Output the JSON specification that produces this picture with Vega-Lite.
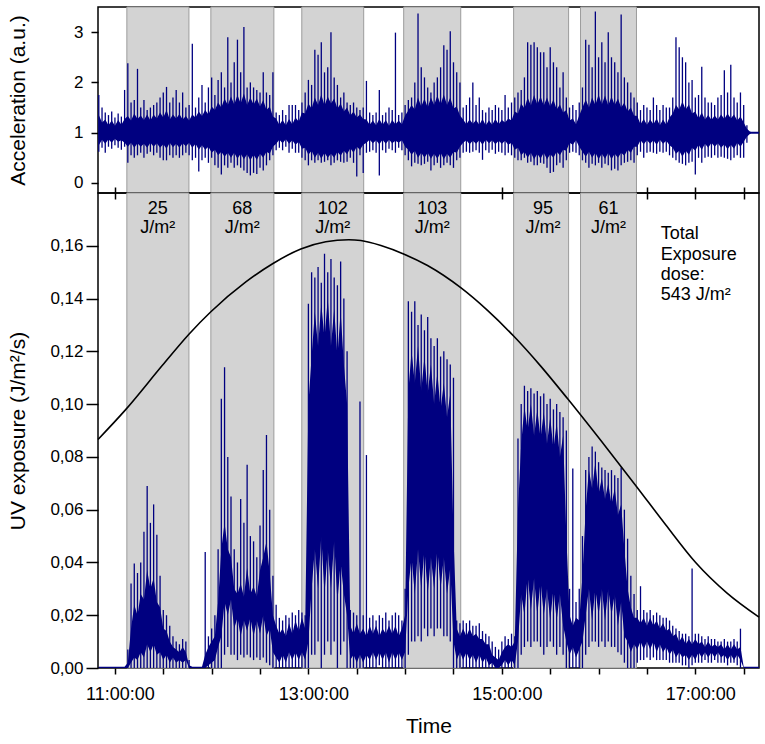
{
  "$schema": "https://vega.github.io/schema/vega-lite/v6.json",
  "padding": {"left": 6, "top": 5, "right": 5, "bottom": 5},
  "background": "white",
  "bounds": "flush",
  "spacing": 0,
  "config": {
    "view": {"stroke": "black", "strokeWidth": 1.5},
    "font": "Liberation Sans",
    "axis": {
      "labelFont": "Liberation Sans", "titleFont": "Liberation Sans",
      "labelColor": "black", "titleColor": "black", "tickColor": "black",
      "tickWidth": 1.5, "domain": false, "grid": false, "titleFontWeight": "normal"
    },
    "text": {"font": "Liberation Sans"}
  },
  "datasets": {
    "bands": [
      {"s": 667.4, "e": 705.9, "c": 686.6, "lab": ["25", "J/m²"]},
      {"s": 719.5, "e": 758.6, "c": 739.0, "lab": ["68", "J/m²"]},
      {"s": 775.9, "e": 814.3, "c": 795.1, "lab": ["102", "J/m²"]},
      {"s": 839.1, "e": 874.5, "c": 856.8, "lab": ["103", "J/m²"]},
      {"s": 907.3, "e": 941.4, "c": 925.5, "lab": ["95", "J/m²"]},
      {"s": 948.8, "e": 983.5, "c": 966.2, "lab": ["61", "J/m²"]}
    ],
    "acc": [
      {"m":650,"lo":0.62,"a":0.75,"b":1.35,"hi":1.75},
      {"m":652,"lo":0.7,"a":0.86,"b":1.2,"hi":1.5},
      {"m":654,"lo":0.6,"a":0.78,"b":1.26,"hi":1.4},
      {"m":656,"lo":0.72,"a":0.87,"b":1.15,"hi":1.35},
      {"m":658,"lo":0.68,"a":0.8,"b":1.24,"hi":1.42},
      {"m":660,"lo":0.75,"a":0.88,"b":1.14,"hi":1.3},
      {"m":662,"lo":0.7,"a":0.82,"b":1.25,"hi":1.38},
      {"m":664,"lo":0.66,"a":0.85,"b":1.16,"hi":1.32},
      {"m":666,"lo":0.72,"a":0.8,"b":1.27,"hi":1.85},
      {"m":668,"lo":0.4,"a":0.72,"b":1.33,"hi":2.38},
      {"m":670,"lo":0.55,"a":0.8,"b":1.24,"hi":1.6},
      {"m":672,"lo":0.5,"a":0.7,"b":1.38,"hi":1.65},
      {"m":674,"lo":0.55,"a":0.79,"b":1.27,"hi":2.27},
      {"m":676,"lo":0.6,"a":0.72,"b":1.34,"hi":1.5},
      {"m":678,"lo":0.5,"a":0.78,"b":1.25,"hi":1.65},
      {"m":680,"lo":0.58,"a":0.7,"b":1.36,"hi":1.45},
      {"m":682,"lo":0.62,"a":0.8,"b":1.24,"hi":1.5},
      {"m":684,"lo":0.55,"a":0.72,"b":1.36,"hi":1.55},
      {"m":686,"lo":0.6,"a":0.79,"b":1.28,"hi":1.6},
      {"m":688,"lo":0.5,"a":0.7,"b":1.4,"hi":1.7},
      {"m":690,"lo":0.45,"a":0.77,"b":1.3,"hi":1.8},
      {"m":692,"lo":0.45,"a":0.68,"b":1.45,"hi":1.91},
      {"m":694,"lo":0.55,"a":0.8,"b":1.26,"hi":1.6},
      {"m":696,"lo":0.5,"a":0.71,"b":1.36,"hi":1.7},
      {"m":698,"lo":0.55,"a":0.78,"b":1.28,"hi":1.85},
      {"m":700,"lo":0.5,"a":0.7,"b":1.37,"hi":1.6},
      {"m":702,"lo":0.55,"a":0.79,"b":1.26,"hi":1.8},
      {"m":704,"lo":0.6,"a":0.73,"b":1.33,"hi":1.5},
      {"m":706,"lo":0.55,"a":0.8,"b":1.24,"hi":1.55},
      {"m":708,"lo":0.45,"a":0.7,"b":1.36,"hi":2.77},
      {"m":710,"lo":0.5,"a":0.78,"b":1.3,"hi":1.5},
      {"m":712,"lo":0.23,"a":0.66,"b":1.42,"hi":1.7},
      {"m":714,"lo":0.45,"a":0.75,"b":1.33,"hi":1.95},
      {"m":716,"lo":0.5,"a":0.66,"b":1.45,"hi":1.6},
      {"m":718,"lo":0.4,"a":0.72,"b":1.36,"hi":1.9},
      {"m":720,"lo":0.5,"a":0.6,"b":1.52,"hi":2.1},
      {"m":722,"lo":0.35,"a":0.66,"b":1.45,"hi":1.75},
      {"m":724,"lo":0.3,"a":0.55,"b":1.6,"hi":2.05},
      {"m":726,"lo":0.17,"a":0.62,"b":1.5,"hi":2.2},
      {"m":728,"lo":0.35,"a":0.52,"b":1.68,"hi":1.9},
      {"m":730,"lo":0.3,"a":0.6,"b":1.55,"hi":2.9},
      {"m":732,"lo":0.4,"a":0.5,"b":1.72,"hi":2.0},
      {"m":734,"lo":0.3,"a":0.6,"b":1.56,"hi":2.4},
      {"m":736,"lo":0.35,"a":0.48,"b":1.75,"hi":2.85},
      {"m":738,"lo":0.3,"a":0.58,"b":1.58,"hi":2.2},
      {"m":740,"lo":0.25,"a":0.47,"b":1.78,"hi":3.1},
      {"m":742,"lo":0.2,"a":0.57,"b":1.55,"hi":1.9},
      {"m":744,"lo":0.15,"a":0.45,"b":1.7,"hi":2.0},
      {"m":746,"lo":0.2,"a":0.56,"b":1.56,"hi":1.9},
      {"m":748,"lo":0.18,"a":0.46,"b":1.68,"hi":1.85},
      {"m":750,"lo":0.3,"a":0.58,"b":1.52,"hi":1.8},
      {"m":752,"lo":0.25,"a":0.5,"b":1.65,"hi":2.2},
      {"m":754,"lo":0.35,"a":0.62,"b":1.45,"hi":1.8},
      {"m":756,"lo":0.45,"a":0.58,"b":1.52,"hi":1.75},
      {"m":758,"lo":0.55,"a":0.72,"b":1.32,"hi":2.2},
      {"m":760,"lo":0.65,"a":0.78,"b":1.28,"hi":1.4},
      {"m":762,"lo":0.7,"a":0.86,"b":1.16,"hi":1.35},
      {"m":764,"lo":0.65,"a":0.79,"b":1.25,"hi":1.45},
      {"m":766,"lo":0.72,"a":0.87,"b":1.15,"hi":1.35},
      {"m":768,"lo":0.6,"a":0.78,"b":1.27,"hi":1.55},
      {"m":770,"lo":0.68,"a":0.85,"b":1.17,"hi":1.55},
      {"m":772,"lo":0.6,"a":0.76,"b":1.3,"hi":1.55},
      {"m":774,"lo":0.6,"a":0.82,"b":1.22,"hi":1.45},
      {"m":776,"lo":0.5,"a":0.68,"b":1.4,"hi":1.6},
      {"m":778,"lo":0.45,"a":0.7,"b":1.38,"hi":1.8},
      {"m":780,"lo":0.35,"a":0.56,"b":1.58,"hi":2.05},
      {"m":782,"lo":0.45,"a":0.64,"b":1.48,"hi":1.95},
      {"m":784,"lo":0.4,"a":0.5,"b":1.7,"hi":2.65},
      {"m":786,"lo":0.45,"a":0.6,"b":1.55,"hi":2.55},
      {"m":788,"lo":0.4,"a":0.48,"b":1.76,"hi":2.8},
      {"m":790,"lo":0.42,"a":0.6,"b":1.54,"hi":2.2},
      {"m":792,"lo":0.45,"a":0.5,"b":1.72,"hi":2.3},
      {"m":794,"lo":0.35,"a":0.58,"b":1.58,"hi":3.0},
      {"m":796,"lo":0.4,"a":0.5,"b":1.68,"hi":2.1},
      {"m":798,"lo":0.45,"a":0.62,"b":1.48,"hi":1.95},
      {"m":800,"lo":0.42,"a":0.54,"b":1.58,"hi":1.7},
      {"m":802,"lo":0.4,"a":0.64,"b":1.42,"hi":1.8},
      {"m":804,"lo":0.42,"a":0.57,"b":1.5,"hi":1.6},
      {"m":806,"lo":0.5,"a":0.69,"b":1.34,"hi":1.55},
      {"m":808,"lo":0.4,"a":0.6,"b":1.42,"hi":1.6},
      {"m":810,"lo":0.13,"a":0.72,"b":1.3,"hi":1.5},
      {"m":812,"lo":0.55,"a":0.66,"b":1.36,"hi":1.45},
      {"m":814,"lo":0.2,"a":0.76,"b":1.27,"hi":1.5},
      {"m":816,"lo":0.6,"a":0.8,"b":1.26,"hi":2.03},
      {"m":818,"lo":0.62,"a":0.86,"b":1.16,"hi":1.4},
      {"m":820,"lo":0.65,"a":0.79,"b":1.24,"hi":1.35},
      {"m":822,"lo":0.6,"a":0.85,"b":1.15,"hi":1.4},
      {"m":824,"lo":0.15,"a":0.77,"b":1.27,"hi":1.85},
      {"m":826,"lo":0.65,"a":0.86,"b":1.16,"hi":1.35},
      {"m":828,"lo":0.6,"a":0.78,"b":1.25,"hi":1.4},
      {"m":830,"lo":0.68,"a":0.86,"b":1.14,"hi":1.5},
      {"m":832,"lo":0.65,"a":0.79,"b":1.25,"hi":1.45},
      {"m":834,"lo":0.6,"a":0.84,"b":1.17,"hi":2.99},
      {"m":836,"lo":0.7,"a":0.8,"b":1.24,"hi":1.35},
      {"m":838,"lo":0.65,"a":0.85,"b":1.17,"hi":1.4},
      {"m":840,"lo":0.55,"a":0.72,"b":1.34,"hi":1.55},
      {"m":842,"lo":0.45,"a":0.66,"b":1.44,"hi":1.65},
      {"m":844,"lo":0.33,"a":0.56,"b":1.55,"hi":1.7},
      {"m":846,"lo":0.4,"a":0.64,"b":1.46,"hi":2.0},
      {"m":848,"lo":0.38,"a":0.5,"b":1.7,"hi":3.37},
      {"m":850,"lo":0.35,"a":0.6,"b":1.52,"hi":2.3},
      {"m":852,"lo":0.38,"a":0.5,"b":1.68,"hi":2.1},
      {"m":854,"lo":0.42,"a":0.6,"b":1.5,"hi":1.9},
      {"m":856,"lo":0.25,"a":0.48,"b":1.7,"hi":1.8},
      {"m":858,"lo":0.35,"a":0.58,"b":1.55,"hi":2.0},
      {"m":860,"lo":0.4,"a":0.48,"b":1.74,"hi":2.1},
      {"m":862,"lo":0.3,"a":0.6,"b":1.56,"hi":2.3},
      {"m":864,"lo":0.35,"a":0.47,"b":1.76,"hi":2.74},
      {"m":866,"lo":0.4,"a":0.58,"b":1.55,"hi":2.65},
      {"m":868,"lo":0.35,"a":0.5,"b":1.7,"hi":3.02},
      {"m":870,"lo":0.3,"a":0.62,"b":1.48,"hi":2.4},
      {"m":872,"lo":0.45,"a":0.6,"b":1.52,"hi":2.2},
      {"m":874,"lo":0.5,"a":0.72,"b":1.34,"hi":2.0},
      {"m":876,"lo":0.6,"a":0.8,"b":1.26,"hi":1.5},
      {"m":878,"lo":0.62,"a":0.85,"b":1.17,"hi":1.55},
      {"m":880,"lo":0.6,"a":0.77,"b":1.26,"hi":1.7},
      {"m":882,"lo":0.62,"a":0.84,"b":1.18,"hi":2.0},
      {"m":884,"lo":0.65,"a":0.78,"b":1.25,"hi":1.55},
      {"m":886,"lo":0.6,"a":0.85,"b":1.16,"hi":1.7},
      {"m":888,"lo":0.46,"a":0.76,"b":1.27,"hi":1.45},
      {"m":890,"lo":0.65,"a":0.86,"b":1.15,"hi":1.4},
      {"m":892,"lo":0.6,"a":0.79,"b":1.24,"hi":1.5},
      {"m":894,"lo":0.66,"a":0.85,"b":1.16,"hi":1.45},
      {"m":896,"lo":0.58,"a":0.77,"b":1.27,"hi":1.55},
      {"m":898,"lo":0.62,"a":0.84,"b":1.17,"hi":1.5},
      {"m":900,"lo":0.6,"a":0.78,"b":1.25,"hi":1.45},
      {"m":902,"lo":0.55,"a":0.84,"b":1.2,"hi":1.75},
      {"m":904,"lo":0.6,"a":0.76,"b":1.28,"hi":1.5},
      {"m":906,"lo":0.55,"a":0.8,"b":1.24,"hi":1.6},
      {"m":908,"lo":0.5,"a":0.66,"b":1.42,"hi":1.7},
      {"m":910,"lo":0.45,"a":0.7,"b":1.38,"hi":1.8},
      {"m":912,"lo":0.45,"a":0.55,"b":1.58,"hi":1.85},
      {"m":914,"lo":0.5,"a":0.62,"b":1.48,"hi":2.1},
      {"m":916,"lo":0.4,"a":0.5,"b":1.7,"hi":2.8},
      {"m":918,"lo":0.42,"a":0.6,"b":1.54,"hi":2.75},
      {"m":920,"lo":0.35,"a":0.47,"b":1.75,"hi":2.8},
      {"m":922,"lo":0.35,"a":0.58,"b":1.56,"hi":2.7},
      {"m":924,"lo":0.4,"a":0.48,"b":1.72,"hi":2.6},
      {"m":926,"lo":0.38,"a":0.6,"b":1.54,"hi":2.6},
      {"m":928,"lo":0.3,"a":0.47,"b":1.7,"hi":2.3},
      {"m":930,"lo":0.2,"a":0.57,"b":1.52,"hi":2.7},
      {"m":932,"lo":0.22,"a":0.5,"b":1.66,"hi":2.4},
      {"m":934,"lo":0.35,"a":0.62,"b":1.46,"hi":2.3},
      {"m":936,"lo":0.4,"a":0.55,"b":1.56,"hi":1.9},
      {"m":938,"lo":0.3,"a":0.66,"b":1.4,"hi":2.2},
      {"m":940,"lo":0.45,"a":0.64,"b":1.45,"hi":1.7},
      {"m":942,"lo":0.6,"a":0.8,"b":1.24,"hi":1.5},
      {"m":944,"lo":0.62,"a":0.76,"b":1.28,"hi":1.55},
      {"m":946,"lo":0.6,"a":0.85,"b":1.17,"hi":1.45},
      {"m":948,"lo":0.55,"a":0.72,"b":1.34,"hi":1.6},
      {"m":950,"lo":0.45,"a":0.62,"b":1.5,"hi":1.9},
      {"m":952,"lo":0.4,"a":0.52,"b":1.66,"hi":2.85},
      {"m":954,"lo":0.3,"a":0.62,"b":1.5,"hi":2.75},
      {"m":956,"lo":0.38,"a":0.5,"b":1.7,"hi":2.3},
      {"m":958,"lo":0.35,"a":0.6,"b":1.55,"hi":3.41},
      {"m":960,"lo":0.4,"a":0.47,"b":1.76,"hi":2.5},
      {"m":962,"lo":0.3,"a":0.58,"b":1.56,"hi":2.8},
      {"m":964,"lo":0.38,"a":0.48,"b":1.74,"hi":2.4},
      {"m":966,"lo":0.35,"a":0.6,"b":1.54,"hi":3.0},
      {"m":968,"lo":0.25,"a":0.47,"b":1.72,"hi":2.5},
      {"m":970,"lo":0.28,"a":0.58,"b":1.55,"hi":2.4},
      {"m":972,"lo":0.25,"a":0.5,"b":1.68,"hi":2.2},
      {"m":974,"lo":0.35,"a":0.6,"b":1.5,"hi":3.35},
      {"m":976,"lo":0.4,"a":0.54,"b":1.6,"hi":2.1},
      {"m":978,"lo":0.42,"a":0.66,"b":1.42,"hi":2.0},
      {"m":980,"lo":0.45,"a":0.6,"b":1.5,"hi":1.8},
      {"m":982,"lo":0.4,"a":0.72,"b":1.34,"hi":1.7},
      {"m":984,"lo":0.55,"a":0.72,"b":1.33,"hi":1.6},
      {"m":986,"lo":0.62,"a":0.85,"b":1.17,"hi":1.45},
      {"m":988,"lo":0.5,"a":0.77,"b":1.27,"hi":1.55},
      {"m":990,"lo":0.6,"a":0.85,"b":1.16,"hi":1.5},
      {"m":992,"lo":0.62,"a":0.78,"b":1.26,"hi":1.45},
      {"m":994,"lo":0.6,"a":0.85,"b":1.17,"hi":1.7},
      {"m":996,"lo":0.58,"a":0.76,"b":1.28,"hi":1.55},
      {"m":998,"lo":0.62,"a":0.86,"b":1.15,"hi":1.45},
      {"m":1000,"lo":0.6,"a":0.78,"b":1.26,"hi":1.55},
      {"m":1002,"lo":0.62,"a":0.84,"b":1.16,"hi":1.5},
      {"m":1004,"lo":0.55,"a":0.75,"b":1.3,"hi":1.5},
      {"m":1006,"lo":0.5,"a":0.7,"b":1.38,"hi":1.7},
      {"m":1008,"lo":0.45,"a":0.58,"b":1.55,"hi":2.9},
      {"m":1010,"lo":0.4,"a":0.64,"b":1.46,"hi":2.7},
      {"m":1012,"lo":0.38,"a":0.52,"b":1.62,"hi":2.5},
      {"m":1014,"lo":0.35,"a":0.64,"b":1.46,"hi":2.4},
      {"m":1016,"lo":0.4,"a":0.56,"b":1.56,"hi":2.0},
      {"m":1018,"lo":0.42,"a":0.7,"b":1.38,"hi":2.05},
      {"m":1020,"lo":0.17,"a":0.64,"b":1.42,"hi":1.7},
      {"m":1022,"lo":0.5,"a":0.76,"b":1.28,"hi":1.75},
      {"m":1024,"lo":0.4,"a":0.66,"b":1.4,"hi":2.31},
      {"m":1026,"lo":0.5,"a":0.78,"b":1.26,"hi":1.7},
      {"m":1028,"lo":0.52,"a":0.7,"b":1.35,"hi":1.6},
      {"m":1030,"lo":0.5,"a":0.8,"b":1.25,"hi":1.6},
      {"m":1032,"lo":0.55,"a":0.72,"b":1.34,"hi":1.55},
      {"m":1034,"lo":0.5,"a":0.79,"b":1.26,"hi":1.7},
      {"m":1036,"lo":0.52,"a":0.7,"b":1.36,"hi":1.75},
      {"m":1038,"lo":0.5,"a":0.77,"b":1.27,"hi":2.24},
      {"m":1040,"lo":0.48,"a":0.67,"b":1.38,"hi":1.8},
      {"m":1042,"lo":0.45,"a":0.76,"b":1.28,"hi":2.35},
      {"m":1044,"lo":0.5,"a":0.68,"b":1.36,"hi":1.7},
      {"m":1046,"lo":0.55,"a":0.8,"b":1.24,"hi":1.6},
      {"m":1048,"lo":0.5,"a":0.72,"b":1.32,"hi":1.8},
      {"m":1050,"lo":0.5,"a":0.82,"b":1.2,"hi":1.55},
      {"m":1052,"lo":0.8,"a":0.92,"b":1.08,"hi":1.15},
      {"m":1054,"lo":0.98,"a":0.98,"b":1.02,"hi":1.02},
      {"m":1059.5,"lo":1,"a":0.98,"b":1.02,"hi":1}
    ],
    "uv": [
      {"m":650,"lo":0,"a":0,"b":0.0005,"hi":0},
      {"m":652,"lo":0,"a":0,"b":0.0005,"hi":0},
      {"m":654,"lo":0,"a":0,"b":0.0005,"hi":0},
      {"m":656,"lo":0,"a":0,"b":0.0005,"hi":0},
      {"m":658,"lo":0,"a":0,"b":0.0005,"hi":0},
      {"m":660,"lo":0,"a":0,"b":0.0005,"hi":0},
      {"m":662,"lo":0,"a":0,"b":0.0005,"hi":0},
      {"m":664,"lo":0,"a":0,"b":0.0005,"hi":0},
      {"m":666,"lo":0,"a":0,"b":0.0005,"hi":0},
      {"m":668,"lo":0,"a":0,"b":0.002,"hi":0.007},
      {"m":670,"lo":0,"a":0.002,"b":0.015,"hi":0.032},
      {"m":672,"lo":0,"a":0.004,"b":0.024,"hi":0.0396},
      {"m":674,"lo":0,"a":0.003,"b":0.02,"hi":0.036},
      {"m":676,"lo":0,"a":0.006,"b":0.028,"hi":0.04},
      {"m":678,"lo":0,"a":0.004,"b":0.026,"hi":0.0516},
      {"m":680,"lo":0,"a":0.009,"b":0.037,"hi":0.069},
      {"m":682,"lo":0,"a":0.006,"b":0.03,"hi":0.055},
      {"m":684,"lo":0,"a":0.009,"b":0.034,"hi":0.062},
      {"m":686,"lo":0,"a":0.005,"b":0.025,"hi":0.0505},
      {"m":688,"lo":0,"a":0.006,"b":0.023,"hi":0.035},
      {"m":690,"lo":0,"a":0.003,"b":0.015,"hi":0.022},
      {"m":692,"lo":0,"a":0.005,"b":0.014,"hi":0.02},
      {"m":694,"lo":0,"a":0.002,"b":0.01,"hi":0.016},
      {"m":696,"lo":0,"a":0.004,"b":0.008,"hi":0.012},
      {"m":698,"lo":0,"a":0.002,"b":0.007,"hi":0.01},
      {"m":700,"lo":0,"a":0.003,"b":0.006,"hi":0.009},
      {"m":702,"lo":0,"a":0.002,"b":0.008,"hi":0.011},
      {"m":704,"lo":0,"a":0.003,"b":0.006,"hi":0.01},
      {"m":706,"lo":0,"a":0,"b":0.001,"hi":0.003},
      {"m":708,"lo":0,"a":0,"b":0.0005,"hi":0},
      {"m":710,"lo":0,"a":0,"b":0.0005,"hi":0},
      {"m":712,"lo":0,"a":0,"b":0.0005,"hi":0},
      {"m":714,"lo":0,"a":0,"b":0.0005,"hi":0},
      {"m":716,"lo":0,"a":0,"b":0.005,"hi":0.044},
      {"m":718,"lo":0,"a":0.001,"b":0.008,"hi":0.012},
      {"m":720,"lo":0,"a":0.002,"b":0.01,"hi":0.015},
      {"m":722,"lo":0,"a":0.003,"b":0.012,"hi":0.02},
      {"m":724,"lo":0,"a":0.008,"b":0.025,"hi":0.045},
      {"m":726,"lo":0,"a":0.012,"b":0.045,"hi":0.102},
      {"m":728,"lo":0.005,"a":0.025,"b":0.055,"hi":0.114},
      {"m":730,"lo":0.008,"a":0.02,"b":0.045,"hi":0.08},
      {"m":732,"lo":0.005,"a":0.026,"b":0.042,"hi":0.065},
      {"m":734,"lo":0.005,"a":0.015,"b":0.03,"hi":0.045},
      {"m":736,"lo":0.003,"a":0.019,"b":0.028,"hi":0.04},
      {"m":738,"lo":0.005,"a":0.012,"b":0.032,"hi":0.064},
      {"m":740,"lo":0.004,"a":0.018,"b":0.027,"hi":0.055},
      {"m":742,"lo":0.005,"a":0.014,"b":0.038,"hi":0.077},
      {"m":744,"lo":0.004,"a":0.019,"b":0.028,"hi":0.05},
      {"m":746,"lo":0.003,"a":0.012,"b":0.031,"hi":0.048},
      {"m":748,"lo":0.004,"a":0.018,"b":0.027,"hi":0.042},
      {"m":750,"lo":0.003,"a":0.013,"b":0.037,"hi":0.054},
      {"m":752,"lo":0.004,"a":0.02,"b":0.042,"hi":0.075},
      {"m":754,"lo":0.002,"a":0.012,"b":0.048,"hi":0.0883},
      {"m":756,"lo":0.001,"a":0.015,"b":0.036,"hi":0.06},
      {"m":758,"lo":0,"a":0.006,"b":0.02,"hi":0.035},
      {"m":760,"lo":0,"a":0.004,"b":0.016,"hi":0.024},
      {"m":762,"lo":0,"a":0.002,"b":0.013,"hi":0.019},
      {"m":764,"lo":0,"a":0.005,"b":0.015,"hi":0.018},
      {"m":766,"lo":0,"a":0.002,"b":0.012,"hi":0.02},
      {"m":768,"lo":0,"a":0.006,"b":0.017,"hi":0.019},
      {"m":770,"lo":0,"a":0.003,"b":0.013,"hi":0.021},
      {"m":772,"lo":0,"a":0.006,"b":0.018,"hi":0.02},
      {"m":774,"lo":0,"a":0.003,"b":0.014,"hi":0.022},
      {"m":776,"lo":0,"a":0.006,"b":0.019,"hi":0.021},
      {"m":778,"lo":0,"a":0.003,"b":0.015,"hi":0.02},
      {"m":780,"lo":0,"a":0.01,"b":0.1,"hi":0.138},
      {"m":782,"lo":0.005,"a":0.03,"b":0.118,"hi":0.15},
      {"m":784,"lo":0.005,"a":0.045,"b":0.135,"hi":0.148},
      {"m":786,"lo":0.01,"a":0.03,"b":0.122,"hi":0.152},
      {"m":788,"lo":0,"a":0.05,"b":0.138,"hi":0.146},
      {"m":790,"lo":0.005,"a":0.028,"b":0.125,"hi":0.157},
      {"m":792,"lo":0.01,"a":0.045,"b":0.14,"hi":0.15},
      {"m":794,"lo":0.005,"a":0.03,"b":0.122,"hi":0.155},
      {"m":796,"lo":0.01,"a":0.048,"b":0.136,"hi":0.148},
      {"m":798,"lo":0,"a":0.025,"b":0.118,"hi":0.145},
      {"m":800,"lo":0.005,"a":0.04,"b":0.135,"hi":0.154},
      {"m":802,"lo":0.01,"a":0.028,"b":0.115,"hi":0.14},
      {"m":804,"lo":0,"a":0.02,"b":0.1,"hi":0.12},
      {"m":806,"lo":0,"a":0.003,"b":0.016,"hi":0.022},
      {"m":808,"lo":0,"a":0.005,"b":0.013,"hi":0.021},
      {"m":810,"lo":0,"a":0.002,"b":0.017,"hi":0.02},
      {"m":812,"lo":0,"a":0.005,"b":0.013,"hi":0.101},
      {"m":814,"lo":0,"a":0.002,"b":0.015,"hi":0.02},
      {"m":816,"lo":0,"a":0.005,"b":0.012,"hi":0.0807},
      {"m":818,"lo":0,"a":0.003,"b":0.016,"hi":0.019},
      {"m":820,"lo":0,"a":0.006,"b":0.013,"hi":0.02},
      {"m":822,"lo":0,"a":0.003,"b":0.016,"hi":0.018},
      {"m":824,"lo":0.001,"a":0.006,"b":0.012,"hi":0.02},
      {"m":826,"lo":0,"a":0.003,"b":0.015,"hi":0.019},
      {"m":828,"lo":0,"a":0.006,"b":0.013,"hi":0.021},
      {"m":830,"lo":0,"a":0.002,"b":0.016,"hi":0.018},
      {"m":832,"lo":0,"a":0.006,"b":0.013,"hi":0.02},
      {"m":834,"lo":0,"a":0.003,"b":0.016,"hi":0.021},
      {"m":836,"lo":0,"a":0.006,"b":0.012,"hi":0.02},
      {"m":838,"lo":0,"a":0.003,"b":0.015,"hi":0.018},
      {"m":840,"lo":0,"a":0.006,"b":0.02,"hi":0.03},
      {"m":842,"lo":0.005,"a":0.03,"b":0.105,"hi":0.139},
      {"m":844,"lo":0.01,"a":0.042,"b":0.12,"hi":0.135},
      {"m":846,"lo":0.01,"a":0.028,"b":0.108,"hi":0.139},
      {"m":848,"lo":0.012,"a":0.045,"b":0.122,"hi":0.13},
      {"m":850,"lo":0.01,"a":0.03,"b":0.105,"hi":0.134},
      {"m":852,"lo":0.015,"a":0.045,"b":0.118,"hi":0.128},
      {"m":854,"lo":0.012,"a":0.028,"b":0.104,"hi":0.133},
      {"m":856,"lo":0.015,"a":0.042,"b":0.115,"hi":0.125},
      {"m":858,"lo":0.012,"a":0.03,"b":0.1,"hi":0.122},
      {"m":860,"lo":0.015,"a":0.045,"b":0.112,"hi":0.125},
      {"m":862,"lo":0.015,"a":0.03,"b":0.098,"hi":0.118},
      {"m":864,"lo":0.012,"a":0.042,"b":0.108,"hi":0.12},
      {"m":866,"lo":0.012,"a":0.028,"b":0.095,"hi":0.117},
      {"m":868,"lo":0.01,"a":0.038,"b":0.104,"hi":0.115},
      {"m":870,"lo":0,"a":0.01,"b":0.05,"hi":0.11},
      {"m":872,"lo":0,"a":0.003,"b":0.015,"hi":0.018},
      {"m":874,"lo":0,"a":0.006,"b":0.012,"hi":0.017},
      {"m":876,"lo":0,"a":0.003,"b":0.015,"hi":0.018},
      {"m":878,"lo":0,"a":0.006,"b":0.012,"hi":0.017},
      {"m":880,"lo":0,"a":0.003,"b":0.015,"hi":0.018},
      {"m":882,"lo":0,"a":0.005,"b":0.012,"hi":0.016},
      {"m":884,"lo":0,"a":0.002,"b":0.013,"hi":0.016},
      {"m":886,"lo":0,"a":0.005,"b":0.011,"hi":0.017},
      {"m":888,"lo":0,"a":0.002,"b":0.011,"hi":0.014},
      {"m":890,"lo":0,"a":0.004,"b":0.009,"hi":0.013},
      {"m":892,"lo":0,"a":0.001,"b":0.009,"hi":0.012},
      {"m":894,"lo":0,"a":0.002,"b":0.005,"hi":0.01},
      {"m":896,"lo":0,"a":0,"b":0.004,"hi":0.008},
      {"m":898,"lo":0,"a":0,"b":0.003,"hi":0.007},
      {"m":900,"lo":0,"a":0.001,"b":0.006,"hi":0.01},
      {"m":902,"lo":0,"a":0.003,"b":0.008,"hi":0.012},
      {"m":904,"lo":0,"a":0.001,"b":0.009,"hi":0.011},
      {"m":906,"lo":0,"a":0.003,"b":0.008,"hi":0.013},
      {"m":908,"lo":0,"a":0.001,"b":0.01,"hi":0.012},
      {"m":910,"lo":0,"a":0.01,"b":0.06,"hi":0.087},
      {"m":912,"lo":0.005,"a":0.028,"b":0.085,"hi":0.1},
      {"m":914,"lo":0.008,"a":0.02,"b":0.099,"hi":0.107},
      {"m":916,"lo":0.01,"a":0.035,"b":0.09,"hi":0.105},
      {"m":918,"lo":0.008,"a":0.022,"b":0.1,"hi":0.106},
      {"m":920,"lo":0.01,"a":0.034,"b":0.088,"hi":0.104},
      {"m":922,"lo":0.01,"a":0.02,"b":0.098,"hi":0.105},
      {"m":924,"lo":0.008,"a":0.033,"b":0.087,"hi":0.103},
      {"m":926,"lo":0.005,"a":0.02,"b":0.097,"hi":0.104},
      {"m":928,"lo":0.008,"a":0.03,"b":0.085,"hi":0.1},
      {"m":930,"lo":0.01,"a":0.018,"b":0.095,"hi":0.102},
      {"m":932,"lo":0.008,"a":0.03,"b":0.083,"hi":0.098},
      {"m":934,"lo":0.005,"a":0.018,"b":0.093,"hi":0.1},
      {"m":936,"lo":0.008,"a":0.028,"b":0.08,"hi":0.097},
      {"m":938,"lo":0.005,"a":0.016,"b":0.088,"hi":0.095},
      {"m":940,"lo":0,"a":0.01,"b":0.05,"hi":0.09},
      {"m":942,"lo":0,"a":0.005,"b":0.02,"hi":0.03},
      {"m":944,"lo":0,"a":0.008,"b":0.016,"hi":0.0756},
      {"m":946,"lo":0,"a":0.004,"b":0.019,"hi":0.025},
      {"m":948,"lo":0,"a":0.007,"b":0.018,"hi":0.03},
      {"m":950,"lo":0,"a":0.01,"b":0.035,"hi":0.05},
      {"m":952,"lo":0.005,"a":0.02,"b":0.06,"hi":0.075},
      {"m":954,"lo":0.008,"a":0.03,"b":0.075,"hi":0.08},
      {"m":956,"lo":0.01,"a":0.018,"b":0.068,"hi":0.0839},
      {"m":958,"lo":0.01,"a":0.03,"b":0.078,"hi":0.082},
      {"m":960,"lo":0.008,"a":0.02,"b":0.066,"hi":0.078},
      {"m":962,"lo":0.01,"a":0.03,"b":0.072,"hi":0.076},
      {"m":964,"lo":0.008,"a":0.018,"b":0.064,"hi":0.075},
      {"m":966,"lo":0.01,"a":0.03,"b":0.07,"hi":0.074},
      {"m":968,"lo":0.008,"a":0.02,"b":0.062,"hi":0.075},
      {"m":970,"lo":0.008,"a":0.028,"b":0.068,"hi":0.073},
      {"m":972,"lo":0.006,"a":0.016,"b":0.058,"hi":0.072},
      {"m":974,"lo":0.005,"a":0.025,"b":0.062,"hi":0.076},
      {"m":976,"lo":0.002,"a":0.012,"b":0.045,"hi":0.06},
      {"m":978,"lo":0,"a":0.01,"b":0.03,"hi":0.049},
      {"m":980,"lo":0,"a":0.006,"b":0.023,"hi":0.035},
      {"m":982,"lo":0,"a":0.009,"b":0.019,"hi":0.028},
      {"m":984,"lo":0.002,"a":0.007,"b":0.019,"hi":0.022},
      {"m":986,"lo":0.003,"a":0.01,"b":0.017,"hi":0.031},
      {"m":988,"lo":0.003,"a":0.007,"b":0.019,"hi":0.022},
      {"m":990,"lo":0.004,"a":0.01,"b":0.016,"hi":0.021},
      {"m":992,"lo":0.003,"a":0.007,"b":0.019,"hi":0.022},
      {"m":994,"lo":0.004,"a":0.01,"b":0.016,"hi":0.02},
      {"m":996,"lo":0.003,"a":0.006,"b":0.018,"hi":0.021},
      {"m":998,"lo":0.003,"a":0.009,"b":0.015,"hi":0.02},
      {"m":1000,"lo":0.003,"a":0.006,"b":0.017,"hi":0.019},
      {"m":1002,"lo":0.003,"a":0.008,"b":0.014,"hi":0.019},
      {"m":1004,"lo":0.002,"a":0.005,"b":0.015,"hi":0.018},
      {"m":1006,"lo":0.002,"a":0.007,"b":0.012,"hi":0.016},
      {"m":1008,"lo":0.002,"a":0.004,"b":0.013,"hi":0.015},
      {"m":1010,"lo":0.002,"a":0.006,"b":0.01,"hi":0.014},
      {"m":1012,"lo":0.001,"a":0.004,"b":0.012,"hi":0.013},
      {"m":1014,"lo":0.001,"a":0.005,"b":0.009,"hi":0.013},
      {"m":1016,"lo":0,"a":0.003,"b":0.011,"hi":0.012},
      {"m":1018,"lo":0.001,"a":0.005,"b":0.009,"hi":0.0377},
      {"m":1020,"lo":0.002,"a":0.003,"b":0.011,"hi":0.013},
      {"m":1022,"lo":0.002,"a":0.006,"b":0.009,"hi":0.013},
      {"m":1024,"lo":0.002,"a":0.004,"b":0.01,"hi":0.012},
      {"m":1026,"lo":0.003,"a":0.006,"b":0.008,"hi":0.011},
      {"m":1028,"lo":0.002,"a":0.004,"b":0.01,"hi":0.012},
      {"m":1030,"lo":0.002,"a":0.006,"b":0.008,"hi":0.011},
      {"m":1032,"lo":0.003,"a":0.004,"b":0.009,"hi":0.011},
      {"m":1034,"lo":0.002,"a":0.006,"b":0.008,"hi":0.01},
      {"m":1036,"lo":0.002,"a":0.004,"b":0.009,"hi":0.01},
      {"m":1038,"lo":0.002,"a":0.005,"b":0.007,"hi":0.011},
      {"m":1040,"lo":0.001,"a":0.003,"b":0.009,"hi":0.01},
      {"m":1042,"lo":0.002,"a":0.005,"b":0.007,"hi":0.01},
      {"m":1044,"lo":0.002,"a":0.003,"b":0.009,"hi":0.011},
      {"m":1046,"lo":0.001,"a":0.005,"b":0.007,"hi":0.01},
      {"m":1048,"lo":0,"a":0.003,"b":0.008,"hi":0.0149},
      {"m":1050,"lo":0,"a":0,"b":0.0005,"hi":0},
      {"m":1052,"lo":0,"a":0,"b":0.0005,"hi":0},
      {"m":1054,"lo":0,"a":0,"b":0.0005,"hi":0},
      {"m":1056,"lo":0,"a":0,"b":0.0005,"hi":0},
      {"m":1059.5,"lo":0,"a":0,"b":0.0005,"hi":0}
    ],
    "curve": [
      {"m":649.5,"v":0.0866},
      {"m":666.8,"v":0.098},
      {"m":689.6,"v":0.1148},
      {"m":705.9,"v":0.1265},
      {"m":719.5,"v":0.135},
      {"m":741.2,"v":0.1463},
      {"m":757.8,"v":0.1532},
      {"m":775.3,"v":0.1588},
      {"m":790.8,"v":0.1615},
      {"m":805.0,"v":0.1623},
      {"m":812.5,"v":0.162},
      {"m":825.0,"v":0.1601},
      {"m":839.4,"v":0.1568},
      {"m":853.9,"v":0.1525},
      {"m":874.5,"v":0.1441},
      {"m":891.1,"v":0.1355},
      {"m":907.6,"v":0.1256},
      {"m":924.1,"v":0.1144},
      {"m":940.7,"v":0.1021},
      {"m":965.5,"v":0.083},
      {"m":983.0,"v":0.0692},
      {"m":1001.6,"v":0.0543},
      {"m":1020.2,"v":0.04},
      {"m":1039.5,"v":0.0285},
      {"m":1059.5,"v":0.0193}
    ],
    "note": [
      {"m": 998.5, "v": 0.1677, "lines": ["Total", "Exposure", "dose:", "543 J/m²"]}
    ]
  },
  "vconcat": [
    {
      "width": 661,
      "height": 186,
      "layer": [
        {
          "data": {"name": "bands"},
          "mark": {"type": "rect", "fill": "#d3d3d3", "stroke": "#9c9c9c", "strokeWidth": 1},
          "encoding": {
            "x": {
              "field": "s", "type": "quantitative",
              "scale": {"domain": [649.5, 1059.5], "nice": false, "zero": false},
              "axis": {
                "title": null, "labels": false, "orient": "bottom",
                "values": [660, 690, 720, 750, 780, 810, 840, 870, 900, 930, 960, 990, 1020, 1050],
                "tickSize": 12, "offset": -6
              }
            },
            "x2": {"field": "e"}
          }
        },
        {
          "data": {"name": "acc"},
          "mark": {"type": "area", "color": "#000080"},
          "encoding": {
            "x": {"field": "m", "type": "quantitative"},
            "y": {
              "field": "a", "type": "quantitative",
              "scale": {"domain": [-0.2, 3.5], "nice": false, "zero": false},
              "axis": {
                "title": "Acceleration (a.u.)", "values": [0, 1, 2, 3],
                "tickSize": 7, "labelPadding": 8, "labelFontSize": 17,
                "titleFontSize": 21, "titleX": -80, "titleBaseline": "middle"
              }
            },
            "y2": {"field": "b"}
          }
        },
        {
          "data": {"name": "acc"},
          "mark": {"type": "rule", "color": "#000080", "strokeWidth": 1.3},
          "encoding": {
            "x": {"field": "m", "type": "quantitative"},
            "y": {"field": "lo", "type": "quantitative"},
            "y2": {"field": "hi"}
          }
        }
      ]
    },
    {
      "width": 661,
      "height": 475,
      "layer": [
        {
          "data": {"name": "bands"},
          "mark": {"type": "rect", "fill": "#d3d3d3", "stroke": "#9c9c9c", "strokeWidth": 1},
          "encoding": {
            "x": {
              "field": "s", "type": "quantitative",
              "scale": {"domain": [649.5, 1059.5], "nice": false, "zero": false},
              "axis": {
                "title": "Time",
                "values": [660, 690, 720, 750, 780, 810, 840, 870, 900, 930, 960, 990, 1020, 1050],
                "labelExpr": "(datum.value - 660) % 120 == 0 ? floor(datum.value / 60) + ':00:00' : ''",
                "tickSize": 6, "labelPadding": 11, "labelFontSize": 18, "labelOffset": 5,
                "titleFontSize": 21, "titlePadding": 12
              }
            },
            "x2": {"field": "e"}
          }
        },
        {
          "data": {"name": "bands"},
          "mark": {"type": "text", "fontSize": 18, "baseline": "top", "align": "center", "lineHeight": 19, "color": "black"},
          "encoding": {
            "x": {"field": "c", "type": "quantitative"},
            "y": {"datum": 0.1775, "type": "quantitative"},
            "text": {"field": "lab"}
          }
        },
        {
          "data": {"name": "uv"},
          "mark": {"type": "area", "color": "#000080"},
          "encoding": {
            "x": {"field": "m", "type": "quantitative"},
            "y": {
              "field": "a", "type": "quantitative",
              "scale": {"domain": [0, 0.18], "nice": false},
              "axis": {
                "title": "UV exposure (J/m²/s)",
                "values": [0, 0.02, 0.04, 0.06, 0.08, 0.1, 0.12, 0.14, 0.16],
                "labelExpr": "replace(format(datum.value, '.2f'), '.', ',')",
                "tickSize": 12, "labelPadding": 3, "labelFontSize": 17,
                "titleFontSize": 21, "titleX": -80, "titleBaseline": "middle"
              }
            },
            "y2": {"field": "b"}
          }
        },
        {
          "data": {"name": "uv"},
          "mark": {"type": "rule", "color": "#000080", "strokeWidth": 1.3},
          "encoding": {
            "x": {"field": "m", "type": "quantitative"},
            "y": {"field": "lo", "type": "quantitative"},
            "y2": {"field": "hi"}
          }
        },
        {
          "data": {"name": "curve"},
          "mark": {"type": "line", "color": "black", "strokeWidth": 1.6, "interpolate": "monotone"},
          "encoding": {
            "x": {"field": "m", "type": "quantitative"},
            "y": {"field": "v", "type": "quantitative"}
          }
        },
        {
          "data": {"name": "note"},
          "mark": {"type": "text", "fontSize": 18, "align": "left", "baseline": "top", "lineHeight": 20.3, "color": "black"},
          "encoding": {
            "x": {"field": "m", "type": "quantitative"},
            "y": {"field": "v", "type": "quantitative"},
            "text": {"field": "lines"}
          }
        }
      ]
    }
  ]
}
